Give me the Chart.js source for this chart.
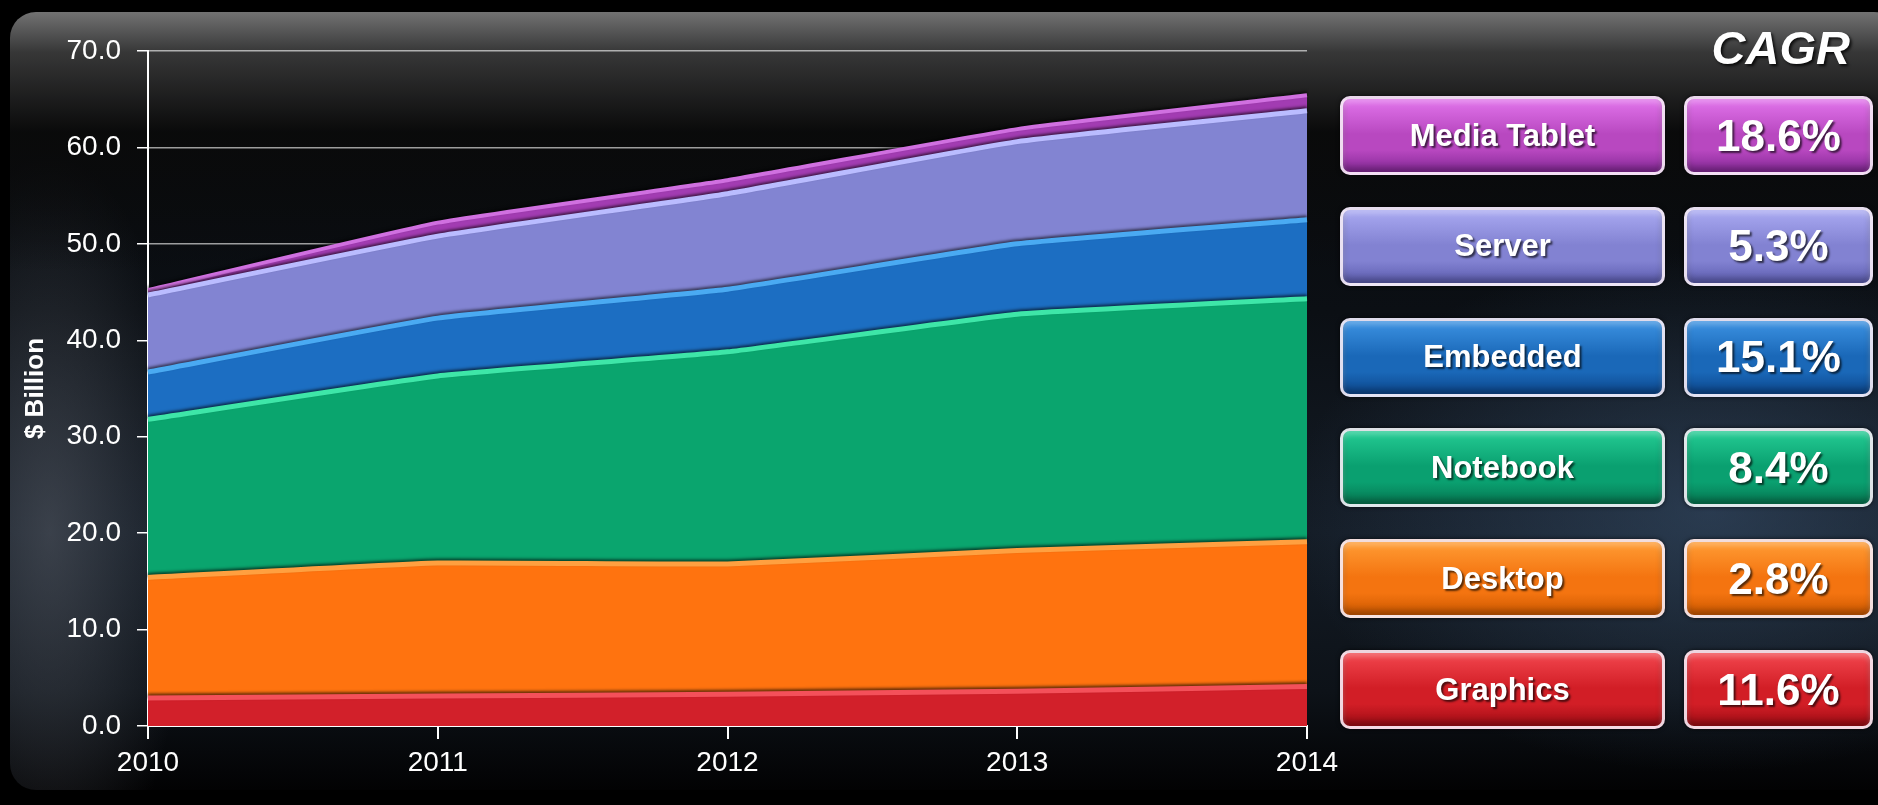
<!DOCTYPE html>
<html>
<head>
<meta charset="utf-8">
<script src="https://cdn.jsdelivr.net/npm/chart.js@4.4.1/dist/chart.umd.min.js"></script>
<style>
  html, body { margin: 0; padding: 0; background: #000; }
  #wrap { position: relative; width: 1878px; height: 805px; overflow: hidden; background: #000;
          font-family: "Liberation Sans", Arial, sans-serif; }
  #panel { position: absolute; left: 10px; top: 12px; width: 1890px; height: 778px; border-radius: 26px;
    background:
      linear-gradient(to bottom, rgba(120,120,120,0.95) 0px, rgba(60,60,60,0.9) 40px, rgba(10,10,10,0.9) 120px, rgba(0,0,0,0) 260px),
      radial-gradient(ellipse 420px 260px at 1700px 500px, rgba(60,85,115,0.55), rgba(0,0,0,0)),
      radial-gradient(ellipse 140px 380px at 40px 520px, rgba(90,95,105,0.55), rgba(0,0,0,0)),
      linear-gradient(to bottom, #07080a 0px, #0b0f14 300px, #141c26 520px, #0d1218 680px, #020203 778px);
  }
  #chartBox { position: absolute; left: 0; top: 0; width: 1878px; height: 805px; }
  #cagrTitle { position: absolute; right: 28px; top: 20px; color: #fff; font-weight: bold; font-style: italic;
    font-size: 47px; text-shadow: 2px 2px 3px rgba(0,0,0,0.8); }
  .box { position: absolute; box-sizing: border-box; height: 79px; border: 3px solid rgba(245,235,245,0.9);
    border-radius: 10px; color: #fff; font-weight: bold; display: flex; align-items: center; justify-content: center;
    text-shadow: 2px 2px 2px rgba(0,0,0,0.65); }
  .lbl { left: 1340px; width: 325px; font-size: 31px; }
  .val { left: 1684px; width: 189px; font-size: 44px; }
</style>
</head>
<body>
<div id="wrap">
  <div id="panel"></div>
  <div id="chartBox"><canvas id="chart"></canvas></div>
  <div id="cagrTitle">CAGR</div>
</div>
<script>
const years = ['2010', '2011', '2012', '2013', '2014'];
const graphics = [2.9, 3.1, 3.3, 3.6, 4.1];
const desktop = [12.5, 13.8, 13.5, 14.6, 15.0];
const notebook = [16.4, 19.4, 22.0, 24.5, 25.2];
const embedded = [4.9, 6.0, 6.5, 7.3, 8.2];
const server = [8.0, 8.5, 9.9, 10.6, 11.3];
const mediaTablet = [0.5, 1.4, 1.4, 1.3, 1.6];
const seriesNames = ['Graphics', 'Desktop', 'Notebook', 'Embedded', 'Server', 'Media Tablet'];
const cagrValues = ['11.6%', '2.8%', '8.4%', '15.1%', '5.3%', '18.6%'];
const yTickLabels = ['0.0', '10.0', '20.0', '30.0', '40.0', '50.0', '60.0', '70.0'];

// fill, top highlight, box gradient (light, base, dark)
const palette = [
    { fill: '#d2202a', edge: '#f4505a', light: '#f2464e', base: '#d21e26', dark: '#9e0c14' },
    { fill: '#ff730f', edge: '#ffa040', light: '#ff9c34', base: '#f47410', dark: '#cc5800' },
    { fill: '#0aa56e', edge: '#3ee6a8', light: '#24cc94', base: '#0aa070', dark: '#067650' },
    { fill: '#1c6ec2', edge: '#4aaaf2', light: '#3c92e2', base: '#1a68b8', dark: '#0c468c' },
    { fill: '#8284d2', edge: '#babcff', light: '#aaaaf2', base: '#8282d2', dark: '#5c5cae' },
    { fill: '#a23cb2', edge: '#d070e0', light: '#e274ec', base: '#b848c0', dark: '#842896' }
];

const seriesData = [graphics, desktop, notebook, embedded, server, mediaTablet];

const datasets = seriesData.map((vals, i) => ({
    label: seriesNames[i],
    data: vals,
    backgroundColor: palette[i].fill,
    borderColor: palette[i].edge,
    borderWidth: i === 5 ? 4 : 5,
    pointRadius: 0,
    tension: 0.12,
    fill: i === 0 ? 'origin' : '-1'
}));

// dark line above each highlight to mimic the bevel
const bevelShadow = {
    id: 'bevelShadow',
    beforeDatasetDraw(chart) {
        const c = chart.ctx;
        c.save();
        c.shadowColor = 'rgba(0,0,0,0.6)';
        c.shadowBlur = 3;
        c.shadowOffsetY = -2;
    },
    afterDatasetDraw(chart) {
        chart.ctx.restore();
    }
};

new Chart(document.getElementById('chart'), {
    type: 'line',
    data: { labels: years, datasets: datasets },
    plugins: [bevelShadow],
    options: {
        responsive: true,
        maintainAspectRatio: false,
        animation: false,
        layout: { padding: { left: 0, top: 51, right: 571, bottom: 0 } },
        plugins: { legend: { display: false }, tooltip: { enabled: false } },
        scales: {
            x: {
                offset: false,
                grid: { drawOnChartArea: false, tickLength: 13, tickColor: '#ffffff', lineWidth: 2 },
                border: { display: true, color: '#ffffff', width: 2 },
                ticks: { color: '#ffffff', padding: 7, maxRotation: 0, font: { family: 'Liberation Sans', size: 28 } },
                afterFit: s => { s.height = 79; }
            },
            y: {
                stacked: true,
                min: 0,
                max: 70,
                grid: { color: 'rgba(255,255,255,0.6)', lineWidth: 1.5, tickLength: 11, tickColor: '#ffffff' },
                border: { display: true, color: '#ffffff', width: 2 },
                ticks: {
                    stepSize: 10,
                    color: '#ffffff',
                    padding: 16,
                    font: { family: 'Liberation Sans', size: 28 },
                    callback: (v, idx) => yTickLabels[idx]
                },
                title: {
                    display: true,
                    text: '$ Billion',
                    color: '#ffffff',
                    padding: { top: 20, bottom: 0 },
                    font: { family: 'Liberation Sans', size: 26, weight: 'bold' }
                },
                afterFit: s => { s.width = 148; }
            }
        }
    }
});

// CAGR legend boxes, top to bottom in reverse stack order
const wrap = document.getElementById('wrap');
const boxTop = 96, boxStep = 110.8;
for (let k = 0; k < seriesNames.length; k++) {
    const i = seriesNames.length - 1 - k;
    const p = palette[i];
    const bg = `linear-gradient(to bottom, ${p.light} 0%, ${p.base} 48%, ${p.base} 70%, ${p.dark} 100%)`;
    const inset = 'inset 0 4px 5px rgba(255,255,255,0.25), inset 0 -5px 6px rgba(0,0,0,0.25)';
    [['lbl', seriesNames[i]], ['val', cagrValues[i]]].forEach(([cls, txt]) => {
        const d = document.createElement('div');
        d.className = 'box ' + cls;
        d.style.top = (boxTop + k * boxStep) + 'px';
        d.style.background = bg;
        d.style.boxShadow = inset + ', 0 0 4px rgba(0,0,0,0.7)';
        d.textContent = txt;
        wrap.appendChild(d);
    });
}
</script>
</body>
</html>
